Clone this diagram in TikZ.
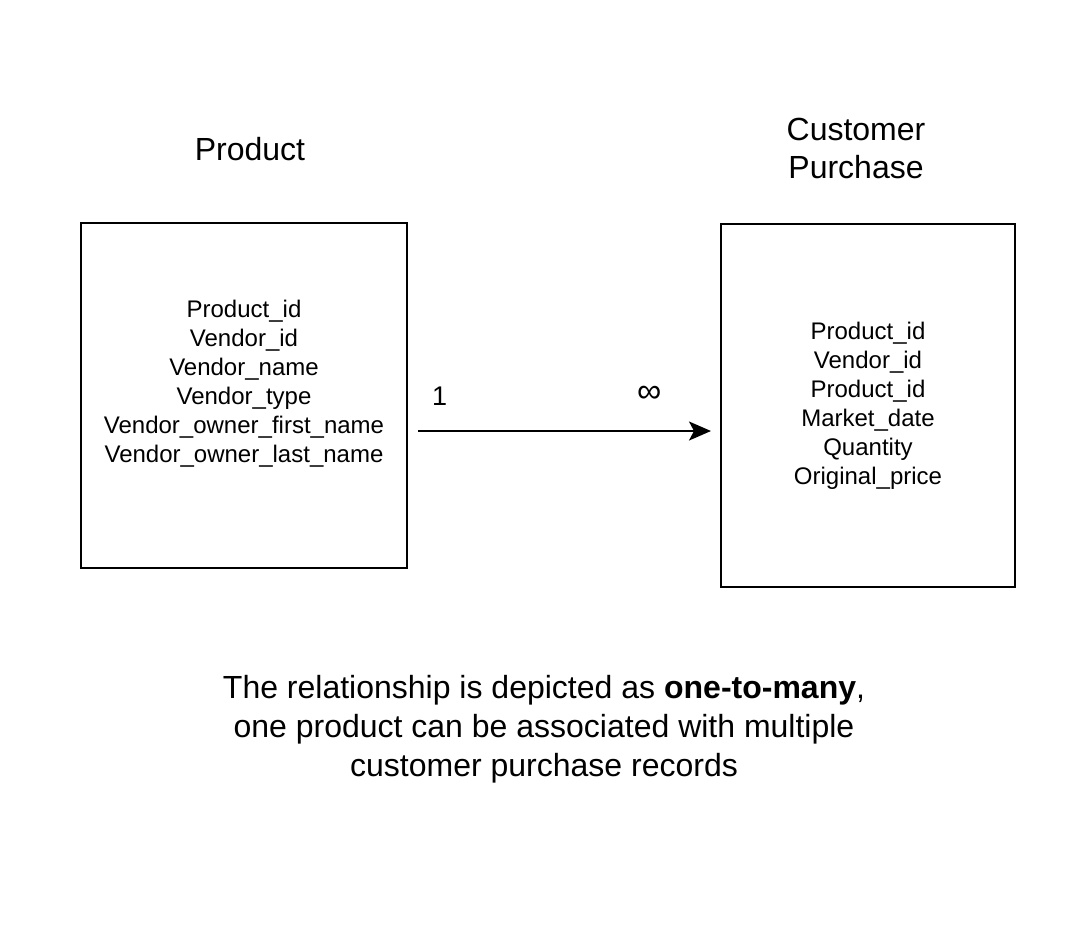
\documentclass[tikz,border=0pt]{standalone}
\usepackage{fontspec}
\setmainfont{Liberation Sans}
\usetikzlibrary{arrows.meta,positioning}

\begin{document}
\begin{tikzpicture}[x=1pt,y=-1pt,
    entity/.style={draw,line width=2pt,inner sep=0pt},
    fields/.style={align=center,font=\fontsize{24}{29}\selectfont},
    heading/.style={align=center,font=\fontsize{32}{38}\selectfont},
    card/.style={font=\fontsize{27}{30}\selectfont},
    link/.style={line width=2pt,-{Stealth[length=22pt,width=19pt,inset=5pt]}}]
    \useasboundingbox (0,0) rectangle (1078,938);

    % Tables
    \node[entity,minimum width=326pt,minimum height=345pt] (product) at (244,395.5) {};
    \node[fields] (productfields) at (244,384) {Product\_id\\Vendor\_id\\Vendor\_name\\Vendor\_type\\Vendor\_owner\_first\_name\\Vendor\_owner\_last\_name};
    \node[entity,fields,minimum width=294pt,minimum height=363pt] (purchase) at (868,405.5)
      {Product\_id\\Vendor\_id\\Product\_id\\Market\_date\\Quantity\\Original\_price};

    % Titles
    \node[heading] (producttitle) at (250,149) {Product};
    \node[heading] (purchasetitle) at (856,148) {Customer\\Purchase};

    % Relationship
    \coordinate (linkstart) at ([xshift=10pt,yshift=-35.5pt]product.east);
    \draw[link,shorten >=9pt] (linkstart) -- (linkstart -| purchase.west)
      node[card,pos=0.072,yshift=35pt] (one) {1}
      node[card,font=\fontsize{34}{36}\selectfont,pos=0.766,yshift=37pt] (many) {∞};

    % Note
    \node[heading,font=\fontsize{32}{39}\selectfont] (note) at (544,729)
      {The relationship is depicted as \textbf{one-to-many},\\one product can be associated with multiple\\customer purchase records};
\end{tikzpicture}
\end{document}
